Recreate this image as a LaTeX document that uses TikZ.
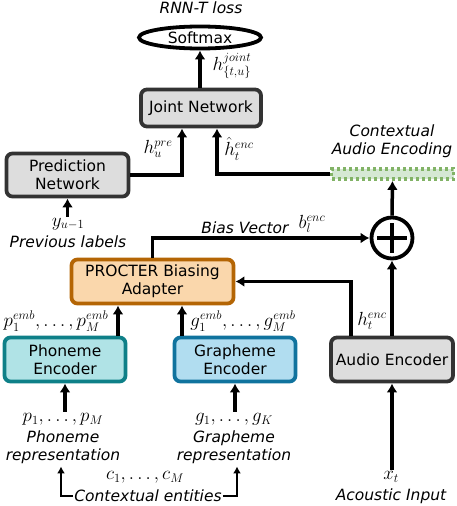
\RequirePackage{fix-cm}
\documentclass[tikz,border=0pt]{standalone}
\usepackage{amsmath}
\usepackage[no-math]{fontspec}
\setmainfont{DejaVu Sans}
\usetikzlibrary{shapes, arrows.meta, positioning, calc}
\definecolor{boxgray}{HTML}{DDDDDD}
\definecolor{darkline}{HTML}{333333}
\definecolor{phonfill}{HTML}{B0E3E6}
\definecolor{phondraw}{HTML}{0E8088}
\definecolor{graphfill}{HTML}{B1DDF0}
\definecolor{graphdraw}{HTML}{10739E}
\definecolor{procfill}{HTML}{FAD7AC}
\definecolor{procdraw}{HTML}{B46504}
\definecolor{ctxfill}{HTML}{D5E8D4}
\definecolor{ctxdraw}{HTML}{82B366}
\DeclareMathSizes{19}{19}{12.5}{9}
\tikzstyle{block} = [draw=darkline, fill=boxgray, line width=3.8pt, rounded corners=6pt, align=center, inner sep=0pt, font=\fontsize{15.5}{18}\selectfont]
\tikzstyle{label} = [inner sep=1pt, align=center, font=\fontsize{15.5}{17.5}\selectfont\itshape]
\tikzstyle{mlabel} = [inner sep=1pt, font=\fontsize{19}{22}\selectfont]
\tikzstyle{flow} = [line width=3.5pt, -{Latex[length=9pt,width=11pt]}]
\tikzstyle{thinflow} = [line width=2.2pt, -{Latex[length=7pt,width=8pt]}]

\begin{document}
\begin{tikzpicture}[x=1pt, y=-1pt]
		\useasboundingbox (0,0) rectangle (456,506);
		\coordinate (softmax) at (200,  37.5);
		\coordinate (joint)   at (201,  108);
		\coordinate (predict) at (67.5, 175);
		\coordinate (context) at (392.5,174);
		\coordinate (adder)   at (392,  238);
		\coordinate (procter) at (152.5,281.5);
		\coordinate (phoneme) at (65,   359.5);
		\coordinate (graphem) at (235,  359.5);
		\coordinate (audioen) at (392,  359.5);

		\node[draw=black, ellipse, line width=3.8pt, minimum width=122, minimum height=22, inner sep=0pt, font=\fontsize{15.5}{18}\selectfont] (SMX) at (softmax) {Softmax};
		\node[block, minimum width=120, minimum height=37] (JNT) at (joint) {Joint Network};
		\node[block, minimum width=122, minimum height=43] (PRD) at (predict) {Prediction\\Network};
		\node[draw=ctxdraw, fill=ctxfill, line width=3.8pt, dash pattern=on 3pt off 3pt, minimum width=122, minimum height=10, inner sep=0pt] (CAE) at (context) {};
		\node[draw=black, circle, line width=3.8pt, minimum size=41, inner sep=0pt] (ADD) at (adder) {};
		\node[block, fill=procfill, draw=procdraw, minimum width=162, minimum height=44] (PRC) at (procter) {PROCTER Biasing\\Adapter};
		\node[block, fill=phonfill, draw=phondraw, minimum width=121, minimum height=44] (PHE) at (phoneme) {Phoneme\\Encoder};
		\node[block, fill=graphfill, draw=graphdraw, minimum width=121, minimum height=44] (GRE) at (graphem) {Grapheme\\Encoder};
		\node[block, minimum width=122, minimum height=44] (AUD) at (audioen) {Audio Encoder};
		\draw[line width=3.8pt] ($(ADD.center)+(-15,0)$) -- ($(ADD.center)+(15,0)$);
		\draw[line width=3.8pt] ($(ADD.center)+(0,-15)$) -- ($(ADD.center)+(0,15)$);

		% texts
		\node[label] (LOSS) at (201, 8) {RNN-T loss};
		\node[mlabel] (HJ) at (232, 66) {$h^{joint}_{\{t,u\}}$};
		\node[mlabel] (HPRE) at (158, 149) {$h^{pre}_{u}$};
		\node[mlabel] (HENC) at (239, 149) {$\hat{h}^{enc}_{t}$};
		\node[label] (CAET) at (392, 141) {Contextual\\Audio Encoding};
		\node[mlabel] (YU) at (68, 224) {$y_{u-1}$};
		\node[label] (PREV) at (68, 242) {Previous labels};
		\node[label] (BIAS) at (245, 228) {Bias Vector};
		\node[mlabel] (BL) at (312, 224) {$b^{enc}_{l}$};
		\node[mlabel] (PEMB) at (56, 321) {$p^{emb}_{1},\ldots,p^{emb}_{M}$};
		\node[mlabel] (GEMB) at (243, 321) {$g^{emb}_{1},\ldots,g^{emb}_{M}$};
		\node[mlabel] (HT) at (372, 321) {$h^{enc}_{t}$};
		\node[mlabel] (PSEQ) at (63, 419) {$p_{1},\ldots,p_{M}$};
		\node[label] (PREP) at (63, 447) {Phoneme\\representation};
		\node[mlabel] (GSEQ) at (234, 419) {$g_{1},\ldots,g_{K}$};
		\node[label] (GREP) at (234, 447) {Grapheme\\representation};
		\node[mlabel] (CSEQ) at (145, 477) {$c_{1},\ldots,c_{M}$};
		\node[label] (CTX) at (148, 496) {Contextual entities};
		\node[mlabel] (XT) at (391, 477) {$x_{t}$};
		\node[label] (ACI) at (391, 496) {Acoustic Input};

		\coordinate (phup) at ($(PHE.north)+(53,0)$);
		\coordinate (grup) at ($(GRE.north)+(-53,0)$);
		\coordinate (htup) at ($(AUD.north)+(-41,0)$);

		\draw[flow] (JNT.north -| SMX.south) -- (SMX.south);
		\draw[flow] (PRD.east) -| ($(JNT.south)+(-19,0)$);
		\draw[flow] (CAE.west) -| ($(JNT.south)+(16,0)$);
		\draw[flow] (YU.north -| PRD.south) -- (PRD.south);
		\draw[flow] (ADD.north) -- (CAE.south);
		\draw[flow] (AUD.north) -- (ADD.south);
		\draw[flow] (PRC.north) |- (ADD.west);
		\draw[flow] (htup) |- (PRC.east);
		\draw[flow] (phup) -- (phup |- PRC.south);
		\draw[flow] (grup) -- (grup |- PRC.south);
		\draw[flow] (PSEQ.north -| PHE.south) -- (PHE.south);
		\draw[flow] (GSEQ.north -| GRE.south) -- (GRE.south);
		\draw[flow] (XT.north -| AUD.south) -- (AUD.south);
		\draw[thinflow] (CTX.west) -| ($(PREP.south)+(-2,2)$);
		\draw[thinflow] (CTX.east) -| ($(GREP.south)+(3,2)$);

	\end{tikzpicture}
\end{document}
